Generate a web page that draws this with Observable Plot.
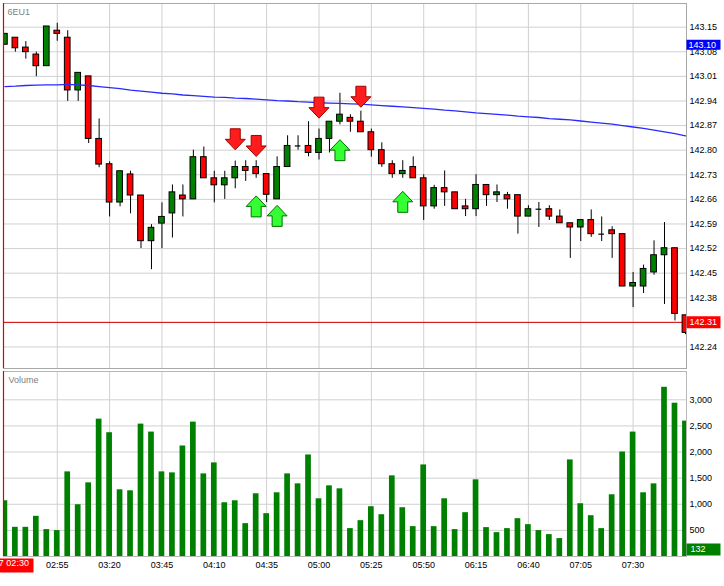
<!DOCTYPE html>
<html><head><meta charset="utf-8">
<script src="https://cdn.jsdelivr.net/npm/d3@7"></script>
<script src="https://cdn.jsdelivr.net/npm/@observablehq/plot@0.6"></script>
<style>
html,body{margin:0;padding:0;background:#fff;}
#chart{position:relative;width:724px;height:586px;overflow:hidden;background:#fff;}
#chart svg{position:absolute;left:0;display:block;}
</style></head><body><div id="chart"></div>
<script>
// ---- data ----
const symbolName = "6EU1";
const volumeTitle = "Volume";
const sessionLabel = "17 02:30";
const startLabel = "02:30";
const barMinutes = 5;
const xTickLabels = ["02:55","03:20","03:45","04:10","04:35","05:00","05:25","05:50","06:15","06:40","07:05","07:30"];
const priceTicks = [142.24,142.31,142.38,142.45,142.52,142.59,142.66,142.73,142.80,142.87,142.94,143.01,143.08,143.15];
const volumeTicks = [500,1000,1500,2000,2500,3000];

const open = [143.100,143.120,143.092,143.072,143.039,143.140,143.120,142.970,143.010,142.832,
142.760,142.651,142.731,142.671,142.541,142.591,142.620,142.671,142.660,142.780,
142.720,142.700,142.720,142.752,142.752,142.732,142.660,142.752,142.812,142.812,
142.792,142.832,142.881,142.892,142.881,142.851,142.800,142.760,142.732,142.752,
142.720,142.640,142.692,142.680,142.640,142.632,142.701,142.672,142.672,142.672,
142.611,142.632,142.632,142.611,142.592,142.580,142.601,142.561,142.572,142.561,
142.412,142.412,142.452,142.501,142.521,142.330];
const high = [143.131,143.120,143.109,143.079,143.152,143.161,143.140,143.020,143.010,142.889,
142.767,142.740,142.740,142.671,142.588,142.650,142.701,142.701,142.800,142.809,
142.740,142.740,142.769,142.770,142.770,142.732,142.781,142.841,142.841,142.881,
142.860,142.881,142.962,142.901,142.911,142.860,142.821,142.770,142.770,142.781,
142.730,142.700,142.741,142.680,142.660,142.730,142.701,142.701,142.680,142.672,
142.642,142.651,142.642,142.630,142.592,142.601,142.630,142.610,142.582,142.561,
142.452,142.473,142.542,142.594,142.521,142.330];
const low = [143.100,143.079,143.059,143.009,143.039,143.110,142.939,142.939,142.819,142.750,
142.610,142.639,142.619,142.520,142.460,142.520,142.550,142.610,142.660,142.720,
142.650,142.660,142.690,142.711,142.720,142.651,142.660,142.752,142.800,142.781,
142.772,142.792,142.872,142.851,142.851,142.780,142.751,142.720,142.720,142.720,
142.600,142.632,142.640,142.632,142.611,142.611,142.640,142.651,142.632,142.561,
142.611,142.580,142.600,142.592,142.492,142.540,142.552,142.540,142.492,142.412,
142.352,142.392,142.444,142.361,142.314,142.275];
const close = [143.131,143.090,143.079,143.039,143.152,143.131,142.970,143.020,142.832,142.759,
142.651,142.740,142.671,142.541,142.579,142.610,142.680,142.660,142.780,142.720,
142.700,142.720,142.752,142.741,142.732,142.673,142.752,142.812,142.812,142.792,
142.832,142.881,142.901,142.881,142.851,142.800,142.760,142.732,142.741,142.720,
142.640,142.692,142.680,142.632,142.632,142.701,142.672,142.680,142.660,142.611,
142.632,142.632,142.611,142.592,142.580,142.601,142.561,142.561,142.561,142.412,
142.422,142.462,142.501,142.521,142.334,142.280];
const volume = [1067,559,559,769,515,496,1620,991,1410,2630,
2370,1277,1258,2535,2382,1620,1601,2116,2573,1582,
1792,1029,1067,629,1201,820,1220,1582,1391,1944,
1105,1353,1296,534,686,953,800,1544,934,572,
1753,572,1105,515,839,1468,553,457,534,724,
610,496,419,343,1849,1010,781,534,1182,2001,
2382,1220,1391,3240,2935,2592];
const movingAvg = [142.981,142.982,142.984,142.985,142.986,142.986,142.987,142.986,142.984,142.981,
142.978,142.975,142.971,142.968,142.965,142.962,142.960,142.957,142.955,142.953,
142.951,142.950,142.948,142.947,142.945,142.943,142.941,142.940,142.938,142.937,
142.935,142.934,142.933,142.932,142.931,142.929,142.927,142.925,142.923,142.921,
142.919,142.917,142.914,142.912,142.909,142.906,142.904,142.902,142.900,142.897,
142.895,142.893,142.890,142.888,142.886,142.883,142.880,142.877,142.874,142.870,
142.866,142.862,142.857,142.852,142.847,142.841];
const sellBars = [22,24,30,34];
const sellLevels = [142.831,142.812,142.921,142.952];
const buyBars = [24,26,32,38];
const buyLevels = [142.640,142.613,142.800,142.653];
const lastPrice = 142.31;
const lastVolume = 132;
const markerPrice = 143.10;

// ---- derived ----
const toMin = s => { const [h,m] = s.split(":").map(Number); return h*60+m; };
const t0 = toMin(startLabel);
const xTickMinutes = xTickLabels.map(s => toMin(s) - t0);
const tickLabelOf = new Map(xTickMinutes.map((m,i)=>[m, xTickLabels[i]]));
const bars = open.map((o,i)=>({t:i*barMinutes,o,h:high[i],l:low[i],c:close[i],v:volume[i],ma:movingAvg[i]}));
const up = bars.filter(d=>d.c>d.o), down = bars.filter(d=>d.c<d.o), doji = bars.filter(d=>d.c===d.o);
const sells = sellBars.map((b,i)=>({t:b*barMinutes,p:sellLevels[i]}));
const buys = buyBars.map((b,i)=>({t:b*barMinutes,p:buyLevels[i]}));
const xDomain = [-0.67, 325.5];
const hw = 1.36;

const GREEN = "#008000", RED = "#ff0000", GRID = "#d0d0d0";
const font = {fontFamily:"'Liberation Sans', Arial, sans-serif", fontSize:"9px", color:"#000", background:"transparent", overflow:"visible"};

const upArrow = {draw(c){c.moveTo(0,-10.5);c.lineTo(10,0);c.lineTo(5,0);c.lineTo(5,10.5);c.lineTo(-5,10.5);c.lineTo(-5,0);c.lineTo(-10,0);c.closePath();}};
const downArrow = {draw(c){c.moveTo(0,10.5);c.lineTo(10,0);c.lineTo(5,0);c.lineTo(5,-10.5);c.lineTo(-5,-10.5);c.lineTo(-5,0);c.lineTo(-10,0);c.closePath();}};
const badge = h => ({draw(c){c.moveTo(0,-h/2);c.lineTo(34,-h/2);c.lineTo(34,h/2);c.lineTo(0,h/2);c.closePath();}});
const leftBadge = {draw(c){c.moveTo(-9,2);c.lineTo(28.6,2);c.lineTo(28.6,16);c.lineTo(-9,16);c.closePath();}};

const pricePlot = Plot.plot({
  width: 724, height: 370,
  marginLeft: 3, marginRight: 38, marginTop: 3, marginBottom: 2,
  style: font,
  x: {type:"linear", domain: xDomain, axis: null},
  y: {domain:[142.1787, 143.2174], axis:"right", ticks: priceTicks, tickFormat: d=>d.toFixed(2), tickSize:0, tickPadding:3, label:null},
  marks: [
    Plot.ruleY(priceTicks, {stroke: GRID}),
    Plot.ruleX(xTickMinutes, {stroke: GRID}),
    Plot.frame({stroke:"#a8a8a8"}),
    Plot.ruleY([lastPrice], {stroke:"#d40000"}),
    Plot.ruleX(bars, {x:"t", y1:"l", y2:"h", stroke:"#000", strokeWidth:1, clip:true}),
    Plot.rect(up, {x1:d=>d.t-hw, x2:d=>d.t+hw, y1:"o", y2:"c", fill:GREEN, stroke:"#000", strokeWidth:1, clip:true}),
    Plot.rect(down, {x1:d=>d.t-hw, x2:d=>d.t+hw, y1:"o", y2:"c", fill:RED, stroke:"#000", strokeWidth:1, clip:true}),
    Plot.ruleY(doji, {x1:d=>d.t-hw, x2:d=>d.t+hw, y:"o", stroke:"#000", strokeWidth:1.2, clip:true}),
    Plot.line(bars, {x:"t", y:"ma", stroke:"#2a2aff", strokeWidth:1.3, clip:true}),
    Plot.dot(sells, {x:"t", y:"p", symbol: downArrow, fill:"#ff1c1c", stroke:"#a00000", strokeWidth:1}),
    Plot.dot(buys, {x:"t", y:"p", symbol: upArrow, fill:"#33ff33", stroke:"#007000", strokeWidth:1}),
    Plot.ruleX([xDomain[0]], {stroke:"#e00000", strokeWidth:1.2}),
    Plot.dot([markerPrice], {y:d=>d, frameAnchor:"right", symbol: badge(10), fill:"#0000ff"}),
    Plot.text([markerPrice], {y:d=>d, frameAnchor:"right", text:d=>d.toFixed(2), textAnchor:"start", dx:2, fill:"#fff"}),
    Plot.dot([lastPrice], {y:d=>d, frameAnchor:"right", symbol: badge(12), fill:RED}),
    Plot.text([lastPrice], {y:d=>d, frameAnchor:"right", text:d=>d.toFixed(2), textAnchor:"start", dx:3, fill:"#fff"}),
    Plot.text([symbolName], {frameAnchor:"top-left", text:d=>d, dx:4, dy:5, lineAnchor:"top", textAnchor:"start", fill:"#808080"})
  ]
});
pricePlot.style.top = "0px";

const volPlot = Plot.plot({
  width: 724, height: 216,
  marginLeft: 3, marginRight: 38, marginTop: 1, marginBottom: 30,
  style: font,
  x: {type:"linear", domain: xDomain, ticks: xTickMinutes, tickFormat: d=>tickLabelOf.get(d), tickSize:0, tickPadding:5, label:null},
  y: {domain:[0, 3542], axis:"right", ticks: volumeTicks, tickFormat: d3.format(","), tickSize:0, tickPadding:3, label:null},
  marks: [
    Plot.ruleY(volumeTicks, {stroke: GRID}),
    Plot.ruleX(xTickMinutes, {stroke: GRID}),
    Plot.frame({stroke:"#b8b8b8"}),
    Plot.rect(bars, {x1:d=>d.t-hw, x2:d=>d.t+hw, y1:0, y2:"v", fill:GREEN, clip:true}),
    Plot.ruleX([xDomain[0]], {stroke:"#e00000", strokeWidth:1.2}),
    Plot.dot([lastVolume], {y:d=>d, frameAnchor:"right", symbol: badge(12), fill:GREEN}),
    Plot.text([lastVolume], {y:d=>d, frameAnchor:"right", text:d=>String(d), textAnchor:"start", dx:4, fill:"#fff"}),
    Plot.dot([0], {x:d=>d, frameAnchor:"bottom", symbol: leftBadge, fill:RED}),
    Plot.text([0], {x:d=>d, frameAnchor:"bottom", text:()=>sessionLabel, textAnchor:"end", dx:24, dy:9, fill:"#fff"}),
    Plot.text([volumeTitle], {frameAnchor:"top-left", text:d=>d, dx:5, dy:5, lineAnchor:"top", textAnchor:"start", fill:"#808080"})
  ]
});
volPlot.style.top = "370px";

const root = document.getElementById("chart");
root.appendChild(pricePlot);
root.appendChild(volPlot);
</script>
</body></html>
